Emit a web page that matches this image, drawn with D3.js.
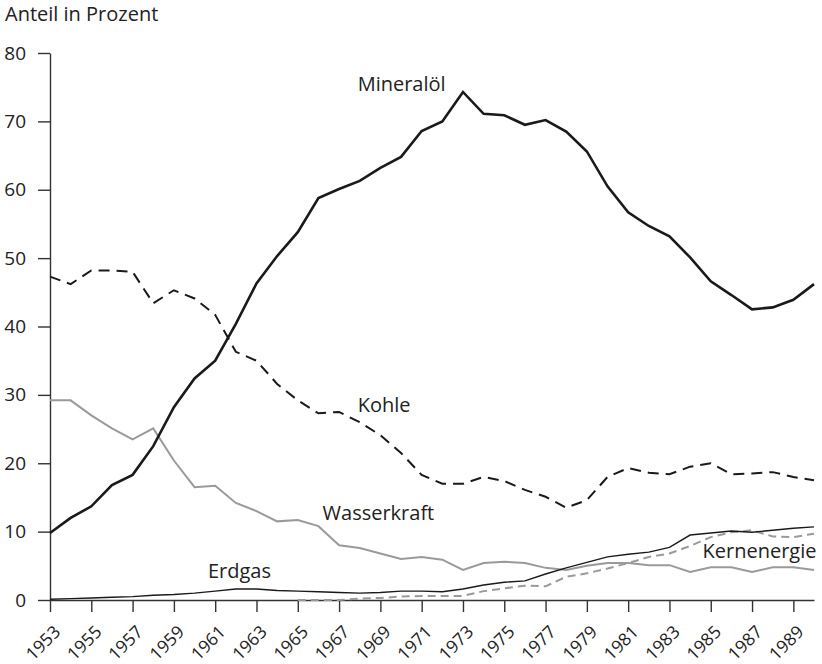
<!DOCTYPE html>
<html><head><meta charset="utf-8">
<script src="https://cdn.jsdelivr.net/npm/d3@7"></script>
<style>body{margin:0;background:#fff;} text{font-family:"Open Sans","Noto Sans",sans-serif;fill:#222;}</style>
</head><body>
<svg id="c" width="822" height="664"></svg>
<script>
const years = d3.range(1953, 1991);
const mineraloel = [9.8,12.0,13.7,16.8,18.3,22.5,28.2,32.4,35.0,40.4,46.3,50.3,53.8,58.8,60.1,61.3,63.2,64.8,68.6,70.0,74.3,71.1,70.9,69.5,70.2,68.5,65.6,60.5,56.7,54.7,53.2,50.1,46.6,44.6,42.5,42.8,43.9,46.2];
const kohle = [47.3,46.2,48.2,48.2,48.0,43.4,45.3,44.1,41.7,36.3,35.0,31.6,29.2,27.3,27.5,26.0,24.1,21.5,18.3,17.0,17.0,18.0,17.4,16.1,15.1,13.5,14.6,18.0,19.3,18.6,18.4,19.5,20.0,18.4,18.5,18.7,18.0,17.5];
const wasserkraft = [29.2,29.2,27.0,25.1,23.5,25.1,20.4,16.5,16.7,14.2,13.0,11.5,11.7,10.8,8.0,7.6,6.8,6.0,6.3,5.9,4.4,5.4,5.6,5.4,4.7,4.4,5.0,5.4,5.4,5.1,5.1,4.1,4.8,4.8,4.1,4.8,4.8,4.4];
const erdgas = [0.1,0.2,0.3,0.4,0.5,0.7,0.8,1.0,1.3,1.6,1.6,1.4,1.3,1.2,1.1,1.0,1.1,1.3,1.3,1.2,1.6,2.2,2.6,2.8,3.8,4.7,5.5,6.3,6.7,7.0,7.7,9.5,9.8,10.1,9.9,10.2,10.5,10.7];
const kernYears = d3.range(1965, 1991);
const kernenergie = [0.0,0.0,0.0,0.2,0.3,0.5,0.6,0.6,0.6,1.3,1.7,2.1,2.0,3.4,3.9,4.6,5.4,6.3,6.8,7.9,9.2,9.9,10.2,9.3,9.2,9.7];
const yTicks = [0,10,20,30,40,50,60,70,80];
const xTicks = d3.range(1953, 1990, 2);

const svg = d3.select("#c");
const x = d3.scaleLinear().domain([1953, 1990]).range([50, 814]);
const y = d3.scaleLinear().domain([0, 80]).range([600, 53]);

// axes
const yAxis = svg.append("g").attr("transform","translate(50,0)")
  .call(d3.axisLeft(y).tickValues(yTicks).tickSize(12).tickPadding(12).tickSizeOuter(0));
yAxis.select(".domain").attr("stroke","#333").attr("stroke-width",1.4);
yAxis.selectAll(".tick line").attr("stroke","#333").attr("stroke-width",1.4);
yAxis.selectAll(".tick text").style("font-size","19px").attr("font-family",null);

const xAxis = svg.append("g").attr("transform","translate(0,600)")
  .call(d3.axisBottom(x).tickValues(xTicks).tickFormat(d3.format("d")).tickSize(12).tickSizeOuter(0));
xAxis.select(".domain").attr("stroke","#333").attr("stroke-width",1.4);
xAxis.selectAll(".tick line").attr("stroke","#333").attr("stroke-width",1.4);
xAxis.selectAll(".tick text").style("font-size","17.5px").attr("font-family",null)
  .attr("text-anchor","end").attr("dy",null).attr("y",0)
  .attr("transform","translate(11,33) rotate(-45)");

const line = (xs) => d3.line().x((d,i)=>x(xs[i])).y(d=>y(d));

svg.append("path").datum(wasserkraft).attr("d", line(years)).attr("fill","none")
  .attr("stroke","#9a9a9a").attr("stroke-width",2);
svg.append("path").datum(kernenergie).attr("d", line(kernYears)).attr("fill","none")
  .attr("stroke","#9a9a9a").attr("stroke-width",2).attr("stroke-dasharray","8,5");
svg.append("path").datum(erdgas).attr("d", line(years)).attr("fill","none")
  .attr("stroke","#1a1a1a").attr("stroke-width",1.4);
svg.append("path").datum(kohle).attr("d", line(years)).attr("fill","none")
  .attr("stroke","#1a1a1a").attr("stroke-width",2).attr("stroke-dasharray","11,7");
svg.append("path").datum(mineraloel).attr("d", line(years)).attr("fill","none")
  .attr("stroke","#1a1a1a").attr("stroke-width",2.6).attr("stroke-linejoin","miter");

// labels
const labels = [
  {t:"Mineralöl", yr:1967.9, v:74.4},
  {t:"Kohle", yr:1967.9, v:27.5},
  {t:"Wasserkraft", yr:1966.2, v:11.7},
  {t:"Erdgas", yr:1960.65, v:3.2},
  {t:"Kernenergie", yr:1984.6, v:6.1}
];
svg.selectAll("text.lab").data(labels).join("text").attr("class","lab")
  .attr("x",d=>x(d.yr)).attr("y",d=>y(d.v)).style("font-size","20px").text(d=>d.t);

svg.append("text").attr("x",5).attr("y",21).style("font-size","20px").text("Anteil in Prozent");
</script>
</body></html>
